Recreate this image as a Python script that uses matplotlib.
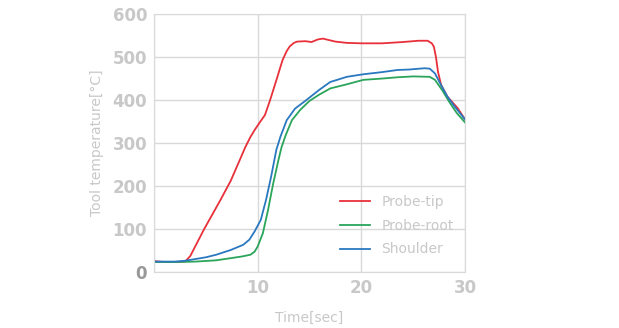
import numpy as np
import matplotlib.pyplot as plt

# 工具温度随时间变化 (三个测点)
t_tip = [0, 1, 2, 3, 3.5, 4.8, 6.4, 7.4, 8.3, 8.8, 9.3, 9.7, 10.2, 10.7, 11.2, 11.8, 12.4, 12.8, 13.1,
         13.5, 13.8, 14.6, 15.2, 15.8, 16.3, 16.8, 17.5, 18.6, 20.0, 22.0, 24.0, 25.5, 26.4, 26.8,
         27.0, 27.2, 27.4, 27.7, 28.3, 29.3, 30.0]
T_tip = [25, 23, 23, 24, 37, 98, 167, 212, 262, 290, 314, 330, 348, 365, 400, 446, 493, 514, 525,
         533, 536, 537, 535, 541, 543, 540, 536, 533, 532, 532, 535, 538, 538, 532,
         524, 500, 465, 435, 408, 381, 355]

t_root = [0, 2, 4, 6, 7.4, 8.5, 9.3, 9.7, 10.0, 10.5, 11.0, 11.5, 12.0, 12.3, 12.7, 13.3, 14.1,
          15.0, 15.9, 17.0, 18.5, 20.2, 22.0, 23.5, 25.0, 26.6, 27.1, 27.8, 28.5, 29.2, 30.0]
T_root = [23, 23, 24, 27, 32, 36, 40, 47, 59, 90, 144, 206, 260, 290, 318, 353, 377,
          398, 412, 427, 436, 447, 450, 453, 455, 454, 447, 423, 395, 370, 348]

t_sh = [0, 2, 3, 4, 5, 6, 7.4, 8.6, 9.2, 9.7, 10.3, 10.8, 11.3, 11.8, 12.2, 12.8, 13.6, 14.7,
        15.9, 17.0, 18.6, 20.2, 22.0, 23.5, 24.6, 26.1, 26.6, 27.1, 27.6, 28.3, 29.0, 30.0]
T_sh = [24, 24, 26, 30, 34, 40, 51, 63, 75, 94, 121, 167, 222, 284, 315, 353, 380, 400,
        423, 442, 454, 460, 465, 470, 471, 474, 473, 462, 439, 408, 385, 355]

grey = '#c8c8c8'
plt.rcParams['font.family'] = ['DejaVu Sans']

fig = plt.figure(figsize=(6.19, 3.28), dpi=100)
ax = fig.add_axes([0.2488, 0.171, 0.5024, 0.786])

ax.plot(t_tip, T_tip, color='#e8303a', lw=1.3, label='Probe-tip')
ax.plot(t_root, T_root, color='#2aa55a', lw=1.3, label='Probe-root')
ax.plot(t_sh, T_sh, color='#2a78c0', lw=1.3, label='Shoulder')

ax.set_xlim(0, 30)
ax.set_ylim(0, 600)
ax.set_xticks([0, 10, 20, 30])
ax.set_xticklabels(['', '10', '20', '30'])
ax.set_yticks(range(0, 601, 100))
ax.grid(True, color='#d9d9d9', lw=1)
ax.set_axisbelow(True)
for s in ax.spines.values():
    s.set_color('#d9d9d9')
ax.tick_params(length=0, labelsize=12, labelcolor=grey, pad=5)
for lab in ax.get_yticklabels():
    lab.set_fontweight('bold')
for lab in ax.get_xticklabels():
    lab.set_fontweight('bold')
ax.get_yticklabels()[0].set_color('#999999')

ax.set_xlabel('Time[sec]', color=grey, fontsize=10, labelpad=10)
ax.set_ylabel('Tool temperature[°C]', color=grey, fontsize=10, labelpad=6)

leg = ax.legend(loc='upper left', bbox_to_anchor=(0.58, 0.32), frameon=False,
                fontsize=10, handlelength=2.2, labelspacing=0.7, borderaxespad=0)
for txt in leg.get_texts():
    txt.set_color(grey)

fig.savefig('out.png', dpi=100)
